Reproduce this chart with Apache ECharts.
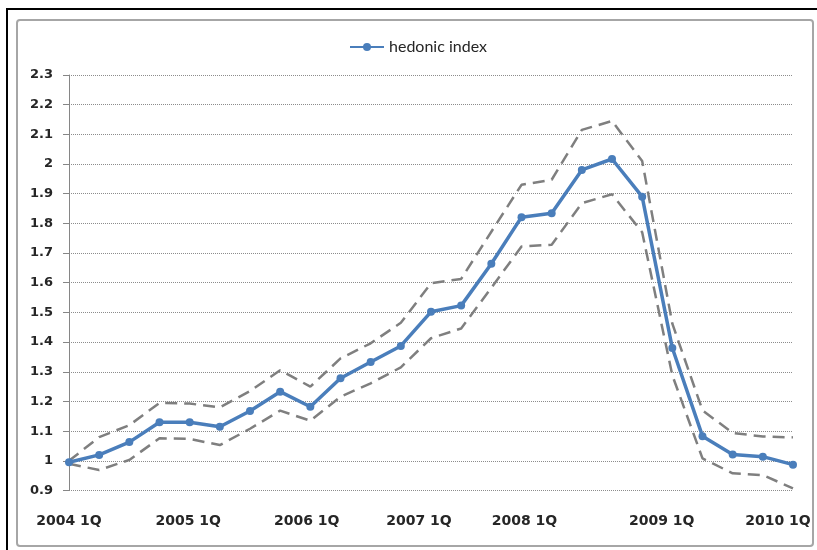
<!DOCTYPE html>
<html>
<head>
<meta charset="utf-8">
<title>hedonic index</title>
<script src="https://cdn.jsdelivr.net/npm/echarts@6/dist/echarts.min.js"></script>
<style>
  html, body { margin: 0; padding: 0; background: #ffffff; }
  #chart { width: 817px; height: 550px; }
</style>
</head>
<body>
<div id="chart"></div>
<script>
// Quarterly categories, 2004 1Q .. 2010 1Q
const quarters = [
  '2004 1Q', '2004 2Q', '2004 3Q', '2004 4Q',
  '2005 1Q', '2005 2Q', '2005 3Q', '2005 4Q',
  '2006 1Q', '2006 2Q', '2006 3Q', '2006 4Q',
  '2007 1Q', '2007 2Q', '2007 3Q', '2007 4Q',
  '2008 1Q', '2008 2Q', '2008 3Q', '2008 4Q',
  '2009 1Q', '2009 2Q', '2009 3Q', '2009 4Q',
  '2010 1Q'
];

// Hedonic price index (2004 1Q = 1)
const hedonicIndex = [
  0.995, 1.02, 1.063, 1.13,
  1.13, 1.115, 1.168, 1.233,
  1.182, 1.278, 1.333, 1.387,
  1.502, 1.523, 1.664, 1.821,
  1.834, 1.98, 2.017, 1.89,
  1.38, 1.083, 1.021, 1.014,
  0.987
];

// Upper and lower confidence bounds
const upperBound = [
  1.0, 1.08, 1.12, 1.195,
  1.193, 1.18, 1.235, 1.305,
  1.25, 1.345, 1.396, 1.465,
  1.598, 1.613, 1.772, 1.93,
  1.947, 2.115, 2.145, 2.01,
  1.462, 1.17, 1.094, 1.082,
  1.079
];
const lowerBound = [
  0.99, 0.969, 1.003, 1.076,
  1.074, 1.053, 1.108, 1.169,
  1.135, 1.216, 1.261, 1.315,
  1.413, 1.446, 1.583, 1.722,
  1.728, 1.868, 1.898, 1.77,
  1.288, 1.008, 0.958, 0.952,
  0.907
];

// Year tick labels along the bottom
const yearLabels = ['2004 1Q', '2005 1Q', '2006 1Q', '2007 1Q', '2008 1Q', '2009 1Q', '2010 1Q'];

const BLUE = '#4a7ebb';
const GREY = '#7f7f7f';
const TEXT = '#262626';

// where each year label sits, in category units
const yearLabelAnchors = [0, 3.95, 7.88, 11.6, 15.1, 19.65, 23.5];

const chart = echarts.init(document.getElementById('chart'), null, { renderer: 'canvas' });

const option = {
  animation: false,
  backgroundColor: '#ffffff',
  graphic: [
    {
      type: 'rect',
      silent: true,
      shape: { x: 7, y: 9, width: 900, height: 700 },
      style: { fill: 'none', stroke: '#000000', lineWidth: 2 }
    },
    {
      type: 'rect',
      silent: true,
      shape: { x: 17, y: 20, width: 796, height: 526, r: 3 },
      style: { fill: 'none', stroke: '#a6a6a6', lineWidth: 2 }
    }
  ],
  legend: {
    data: ['hedonic index'],
    left: 349,
    top: 39,
    padding: 0,
    itemWidth: 34,
    itemHeight: 10,
    itemGap: 10,
    textStyle: { fontFamily: 'Lato', fontSize: 16, color: TEXT }
  },
  grid: { left: 69, right: 24, top: 75, bottom: 59.5 },
  xAxis: [
    {
      type: 'category',
      data: quarters,
      boundaryGap: false,
      axisLine: { show: false },
      axisTick: { show: false },
      axisLabel: { show: false },
      splitLine: { show: false }
    },
    {
      type: 'value',
      min: 0,
      max: quarters.length - 1,
      position: 'bottom',
      axisLine: { show: false },
      axisTick: { show: false },
      splitLine: { show: false },
      axisLabel: {
        customValues: yearLabelAnchors,
        formatter: function (v) {
          const i = yearLabelAnchors.indexOf(v);
          return i >= 0 ? yearLabels[i] : '';
        },
        margin: 24,
        fontFamily: 'DejaVu Sans',
        fontWeight: 'bold',
        fontSize: 14,
        color: TEXT
      }
    }
  ],
  yAxis: {
    type: 'value',
    min: 0.9,
    max: 2.3,
    interval: 0.1,
    axisLine: { show: true, lineStyle: { color: '#868686', width: 1 } },
    axisTick: { show: true, inside: false, length: 6, lineStyle: { color: '#868686' } },
    axisLabel: {
      margin: 16,
      fontFamily: 'DejaVu Sans',
      fontWeight: 'bold',
      fontSize: 13,
      color: TEXT,
      formatter: function (v) { return String(+v.toFixed(1)); }
    },
    splitLine: {
      show: true,
      lineStyle: { color: '#8c8c8c', width: 1, type: [1, 1] }
    }
  },
  series: [
    {
      name: 'upper bound',
      type: 'line',
      xAxisIndex: 0,
      data: upperBound,
      symbol: 'none',
      lineStyle: { color: GREY, width: 2.5, type: [12, 7] },
      z: 2
    },
    {
      name: 'lower bound',
      type: 'line',
      xAxisIndex: 0,
      data: lowerBound,
      symbol: 'none',
      lineStyle: { color: GREY, width: 2.5, type: [12, 7] },
      z: 2
    },
    {
      name: 'hedonic index',
      type: 'line',
      xAxisIndex: 0,
      data: hedonicIndex,
      symbol: 'circle',
      symbolSize: 8,
      itemStyle: { color: BLUE },
      lineStyle: { color: BLUE, width: 3.5 },
      z: 3
    }
  ]
};

chart.setOption(option);
</script>
</body>
</html>
